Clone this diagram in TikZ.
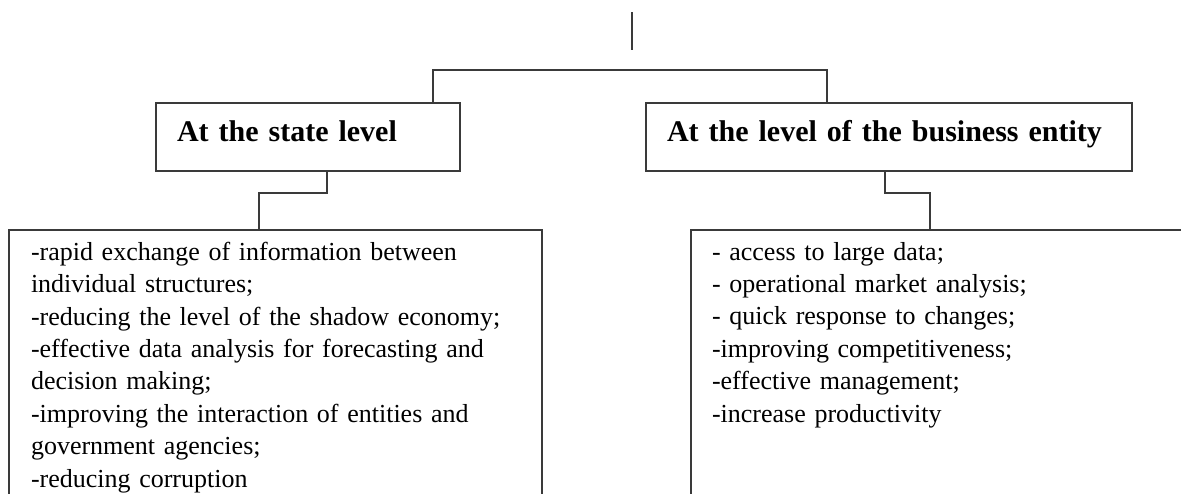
\documentclass[tikz,border=0pt]{standalone}
\usepackage{fontspec}
\setmainfont[WordSpace=0.85]{Liberation Serif}
\definecolor{linegray}{HTML}{3A3A3A}
\tikzset{
    levelbox/.style={draw=linegray, line width=1pt, anchor=north west, align=left,
        font=\bfseries\fontsize{15}{18}\selectfont, inner xsep=10.5pt, inner ysep=0pt,
        text height=0.7em, text depth=0.25em, minimum height=34pt},
    listbox/.style={draw=linegray, line width=1pt, anchor=north west, align=left,
        font=\fontsize{13}{16.2}\selectfont, inner xsep=11pt, inner ysep=6pt,
        text depth=150pt},
    link/.style={draw=linegray, line width=1pt}
}

\begin{document}
\begin{tikzpicture}[x=0.5pt, y=-0.5pt]
    \clip (0,0) rectangle (1181,493);

    % the two levels
    \node[levelbox, text width=131pt] (state) at (155,102) {At the state level};
    \node[levelbox, text width=222pt] (entity) at (645,102) {At the level of the business entity};

    % what each level gets
    \node[listbox, text width=244.5pt] (statelist) at (8,229) {-rapid exchange of information between\\
        individual structures;\\
        -reducing the level of the shadow economy;\\
        -effective data analysis for  forecasting and\\
        decision making;\\
        -improving the interaction of entities and\\
        government agencies;\\
        -reducing corruption};
    \node[listbox, text width=270pt, inner xsep=10.5pt] (entitylist) at (690,229) {- access to large data;\\
        - operational market analysis;\\
        - quick response to changes;\\
        -improving competitiveness;\\
        -effective management;\\
        -increase productivity};

    % connectors
    \coordinate (titletop) at (632,12);
    \coordinate (titlefoot) at (632,50);
    \draw[link] (titletop) -- (titlefoot);

    \coordinate (busL) at (433,70);
    \coordinate (busR) at (827,70);
    \draw[link] (busL |- state.north) -- (busL) -- (busR) -- (busR |- entity.north);

    \coordinate (kneeA) at (327,193);
    \coordinate (kneeB) at (259,193);
    \draw[link] (kneeA |- state.south) -- (kneeA) -- (kneeB) -- (kneeB |- statelist.north);

    \coordinate (kneeC) at (885,193);
    \coordinate (kneeD) at (930,193);
    \draw[link] (kneeC |- entity.south) -- (kneeC) -- (kneeD) -- (kneeD |- entitylist.north);
\end{tikzpicture}
\end{document}
